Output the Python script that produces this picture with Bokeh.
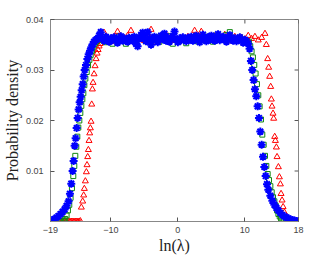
from bokeh.plotting import figure
from bokeh.models import FixedTicker, ColumnDataSource
from bokeh.embed import file_html
from bokeh.resources import INLINE

# ---------------- data ----------------
x_ticks = [-19, -10, 0, 10, 18]
y_ticks = [0.01, 0.02, 0.03, 0.04]
y_tick_labels = ["0.01", "0.02", "0.03", "0.04"]

# red triangles
red_x = [-17.5, -17.3, -17.1, -16.9, -16.7, -16.5, -16.3, -16.1, -15.9, -15.7,
         -15.5, -15.3, -15.1, -14.9, -14.7, -14.55,
         -14.4, -14.2, -14.05, -13.95, -13.8, -13.65, -13.55, -13.45, -13.35, -13.25,
         -13.15, -13.05, -12.95, -12.85, -12.75, -12.65, -12.5, -12.35, -12.2, -12.05,
         -11.9, -11.75, -11.6,
         -11.5, -11.0, -10.5, -10.0, -9.5, -9.0, -8.5, -8.0, -7.5, -7.0,
         -6.5, -6.0, -5.5, -5.0, -4.5, -4.0, -3.5, -3.0, -2.5, -2.0,
         -1.5, -1.0, -0.5, 0.0, 0.5, 1.0, 1.5, 2.0, 2.5, 3.0,
         3.5, 4.0, 4.5, 5.0, 5.5, 6.0, 6.5, 7.0, 7.5, 8.0,
         8.5, 9.0, 9.5, 10.0, 10.5, 11.0, 11.5, 12.0, 12.5, 13.0,
         13.2, 13.4, 13.55, 13.7, 13.85, 13.95, 14.05, 14.2, 14.3, 14.45,
         14.55, 14.7, 14.8, 15.0, 15.15, 15.3, 15.4, 15.55, 15.7, 15.9,
         16.2, 16.5, 16.8, 17.1, 17.4]
red_y = [0, 0, 0, 0, 0, 0, 0, 0, 0, 0,
         0, 0, 0, 0, 0, 0.0001,
         0.0028, 0.0040, 0.0052, 0.0065, 0.0080, 0.0098, 0.0112, 0.0128, 0.0142, 0.0160,
         0.0175, 0.0185, 0.0198, 0.0232, 0.0262, 0.0275, 0.0292, 0.0308, 0.0322, 0.0333,
         0.0340, 0.0347, 0.0352,
         0.0358, 0.0374, 0.0361, 0.0356, 0.0366, 0.0376, 0.0359, 0.0363, 0.0368, 0.0378,
         0.0357, 0.0362, 0.0365, 0.0358, 0.0371, 0.0380, 0.0361, 0.0356, 0.0364, 0.0360,
         0.0367, 0.0358, 0.0362, 0.0357, 0.0363, 0.0359, 0.0366, 0.0361, 0.0378, 0.0364,
         0.0376, 0.0358, 0.0362, 0.0360, 0.0367, 0.0359, 0.0363, 0.0370, 0.0357, 0.0362,
         0.0366, 0.0359, 0.0364, 0.0361, 0.0368, 0.0362, 0.0366, 0.0359, 0.0364, 0.0372,
         0.0350, 0.0322, 0.0305, 0.0287, 0.0267, 0.0242, 0.0228, 0.0214, 0.0204, 0.0168,
         0.0160, 0.0147, 0.0128, 0.0108, 0.0088, 0.0074, 0.0055, 0.0042, 0.0029, 0.0018,
         0.0009, 0.0005, 0.0003, 0.0001, 0.0]

# green squares
green_x = [-17.6, -17.4, -17.2, -17.0, -16.8, -16.6, -16.4, -16.2, -16.0, -15.8,
           -15.6, -15.45, -15.3, -15.15, -15.0, -14.85, -14.7, -14.55, -14.4, -14.25,
           -14.1, -13.95, -13.8, -13.6, -13.4, -13.2, -13.0, -12.8, -12.6, -12.4,
           -12.2, -12.0,
           -11.75, -11.25, -10.75, -10.25, -9.75, -9.25, -8.75, -8.25, -7.75, -7.25,
           -6.75, -6.25, -5.75, -5.25, -4.75, -4.25, -3.75, -3.25, -2.75, -2.25,
           -1.75, -1.25, -0.75, -0.25, 0.25, 0.75, 1.25, 1.75, 2.25, 2.75,
           3.25, 3.75, 4.25, 4.75, 5.25, 5.75, 6.25, 6.75, 7.25, 7.75,
           8.25, 8.75, 9.25, 9.75, 10.25,
           10.6, 10.8, 11.0, 11.2, 11.4, 11.6, 11.8, 12.0, 12.2, 12.4,
           12.6, 12.8, 13.0, 13.2, 13.4, 13.6, 13.8, 14.0, 14.2, 14.4,
           14.6, 14.8, 15.0, 15.2, 15.4, 15.6, 15.8]
green_y = [0, 0, 0.0001, 0.0002, 0.0005, 0.0012, 0.0022, 0.0033, 0.0047, 0.0066,
           0.0090, 0.0110, 0.0130, 0.0148, 0.0168, 0.0186, 0.0200, 0.0215, 0.0229, 0.0242,
           0.0254, 0.0270, 0.0283, 0.0296, 0.0309, 0.0320, 0.0330, 0.0338, 0.0346, 0.0352,
           0.0356, 0.0360,
           0.0364, 0.0359, 0.0355, 0.0362, 0.0352, 0.0361, 0.0366, 0.0358, 0.0352, 0.0363,
           0.0360, 0.0355, 0.0364, 0.0368, 0.0357, 0.0361, 0.0359, 0.0365, 0.0356, 0.0362,
           0.0360, 0.0367, 0.0352, 0.0361, 0.0358, 0.0363, 0.0353, 0.0360, 0.0365, 0.0357,
           0.0362, 0.0359, 0.0366, 0.0361, 0.0356, 0.0368, 0.0363, 0.0360, 0.0369, 0.0375,
           0.0362, 0.0358, 0.0364, 0.0360, 0.0357,
           0.0356, 0.0347, 0.0337, 0.0325, 0.0310, 0.0293, 0.0272, 0.0250, 0.0228, 0.0202,
           0.0172, 0.0152, 0.0130, 0.0110, 0.0094, 0.0082, 0.0070, 0.0058, 0.0048, 0.0040,
           0.0031, 0.0022, 0.0015, 0.0010, 0.0006, 0.0003, 0.0001]

# blue asterisks
blue_x = [-19.0, -18.7, -18.4, -18.1, -17.8, -17.5, -17.2, -16.9, -16.6, -16.3,
          -16.1, -15.9, -15.7, -15.55, -15.4, -15.25, -15.1, -14.95, -14.8, -14.65,
          -14.5, -14.35, -14.2, -14.05, -13.9, -13.7, -13.5, -13.3, -13.1, -12.9,
          -12.7, -12.5, -12.3, -12.1, -11.9,
          -11.75, -11.5, -11.25, -11.0, -10.75, -10.5, -10.25, -10.0, -9.75, -9.5,
          -9.25, -9.0, -8.75, -8.5, -8.25, -8.0, -7.75, -7.5, -7.25, -7.0,
          -6.75, -6.5, -6.25, -6.0, -5.75, -5.5, -5.25, -5.0, -4.75, -4.5,
          -4.25, -4.0, -3.75, -3.5, -3.25, -3.0, -2.75, -2.5, -2.25, -2.0,
          -1.75, -1.5, -1.25, -1.0, -0.75, -0.5, -0.25, 0.0, 0.25, 0.5,
          0.75, 1.0, 1.25, 1.5, 1.75, 2.0, 2.25, 2.5, 2.75, 3.0,
          3.25, 3.5, 3.75, 4.0, 4.25, 4.5, 4.75, 5.0, 5.25, 5.5,
          5.75, 6.0, 6.25, 6.5, 6.75, 7.0, 7.25, 7.5, 7.75, 8.0,
          8.25, 8.5, 8.75, 9.0, 9.25, 9.5, 9.75, 10.0, 10.25,
          10.5, 10.7, 10.9, 11.1, 11.3, 11.5, 11.7, 11.9, 12.1, 12.3,
          12.5, 12.7, 12.9, 13.1, 13.3, 13.5, 13.8, 14.1, 14.4, 14.7,
          15.0, 15.3, 15.6, 15.9, 16.2, 16.5, 16.8, 17.1, 17.4, 17.7, 18.0]
blue_y = [0.0001, 0.0003, 0.0005, 0.0008, 0.0011, 0.0015, 0.0019, 0.0024, 0.0031, 0.0040,
          0.0055, 0.0075, 0.0100, 0.0120, 0.0150, 0.0165, 0.0185, 0.0205, 0.0222, 0.0236,
          0.0247, 0.0260, 0.0272, 0.0287, 0.0300, 0.0310, 0.0322, 0.0331, 0.0338, 0.0345,
          0.0351, 0.0356, 0.0359, 0.0361, 0.0362,
          0.0368, 0.0375, 0.0362, 0.0358, 0.0366, 0.0360, 0.0356, 0.0363, 0.0359, 0.0365,
          0.0361, 0.0354, 0.0362, 0.0367, 0.0358, 0.0363, 0.0360, 0.0356, 0.0364, 0.0361,
          0.0358, 0.0366, 0.0352, 0.0347, 0.0362, 0.0369, 0.0374, 0.0364, 0.0357, 0.0375,
          0.0363, 0.0350, 0.0360, 0.0366, 0.0359, 0.0355, 0.0363, 0.0368, 0.0361, 0.0372,
          0.0358, 0.0364, 0.0356, 0.0362, 0.0367, 0.0376, 0.0360, 0.0355, 0.0363, 0.0359,
          0.0365, 0.0361, 0.0357, 0.0364, 0.0360, 0.0366, 0.0358, 0.0362, 0.0368, 0.0359,
          0.0355, 0.0363, 0.0370, 0.0361, 0.0357, 0.0365, 0.0360, 0.0368, 0.0362, 0.0358,
          0.0364, 0.0371, 0.0359, 0.0363, 0.0366, 0.0360, 0.0356, 0.0364, 0.0369, 0.0361,
          0.0358, 0.0363, 0.0357, 0.0362, 0.0365, 0.0359, 0.0354, 0.0360, 0.0357,
          0.0352, 0.0342, 0.0318, 0.0300, 0.0280, 0.0262, 0.0248, 0.0228, 0.0205, 0.0178,
          0.0152, 0.0128, 0.0108, 0.0090, 0.0074, 0.0063, 0.0051, 0.0041, 0.0033, 0.0027,
          0.0022, 0.0017, 0.0013, 0.0010, 0.0008, 0.0006, 0.0004, 0.0003, 0.0002, 0.0001, 0.0001]

X_LO, X_HI = -19, 18
Y_LO, Y_HI = 0, 0.04

# ---------------- figure ----------------
p = figure(width=329, height=256, x_range=(X_LO, X_HI), y_range=(Y_LO, Y_HI),
           output_backend="svg", toolbar_location=None,
           min_border_left=45, min_border_top=19, min_border_right=31, min_border_bottom=35)
p.xgrid.visible = False
p.ygrid.visible = False
p.outline_line_color = "#888888"
p.background_fill_color = "white"
p.border_fill_color = "white"

src_r = ColumnDataSource(dict(x=red_x, y=red_y))
src_g = ColumnDataSource(dict(x=green_x, y=green_y))
src_b = ColumnDataSource(dict(x=blue_x, y=blue_y))

p.scatter("x", "y", source=src_r, marker="triangle", size=6, fill_color=None,
          line_color="#ff0000", line_width=1)
p.scatter("x", "y", source=src_g, marker="square", size=5, fill_color=None,
          line_color="#118811", line_width=1)
p.scatter("x", "y", source=src_b, marker="asterisk", size=8,
          line_color="#0000ff", line_width=2)

# mirrored inward ticks on the top and right frame edges
tick_dx = (X_HI - X_LO) * 4 / 253
tick_dy = (Y_HI - Y_LO) * 4 / 202
p.segment(x0=x_ticks, y0=[Y_HI] * len(x_ticks), x1=x_ticks,
          y1=[Y_HI - tick_dy] * len(x_ticks), line_color="#555555", line_width=1)
p.segment(x0=[X_HI] * len(y_ticks), y0=y_ticks, x1=[X_HI - tick_dx] * len(y_ticks),
          y1=y_ticks, line_color="#555555", line_width=1)

for ax in p.xaxis + p.yaxis:
    ax.axis_line_color = "#888888"
    ax.major_tick_line_color = "#555555"
    ax.major_tick_in = 4
    ax.major_tick_out = 0
    ax.minor_tick_line_color = None
    ax.major_label_text_font = "Liberation Sans"
    ax.major_label_text_font_size = "9px"
    ax.major_label_text_color = "#444444"
    ax.axis_label_text_font = "Liberation Serif"
    ax.axis_label_text_font_size = "16px"
    ax.axis_label_text_font_style = "normal"
    ax.axis_label_text_color = "#222222"

p.xaxis.ticker = FixedTicker(ticks=x_ticks)
p.yaxis.ticker = FixedTicker(ticks=y_ticks)
p.yaxis.major_label_overrides = {t: s for t, s in zip(y_ticks, y_tick_labels)}
p.xaxis.axis_label = "ln(λ)"
p.yaxis.axis_label = "Probability density"
p.xaxis.major_label_standoff = 5
p.xaxis.axis_label_standoff = 1
p.yaxis.major_label_standoff = 7
p.yaxis.axis_label_standoff = 2

open("out.html", "w").write(file_html(p, INLINE))
